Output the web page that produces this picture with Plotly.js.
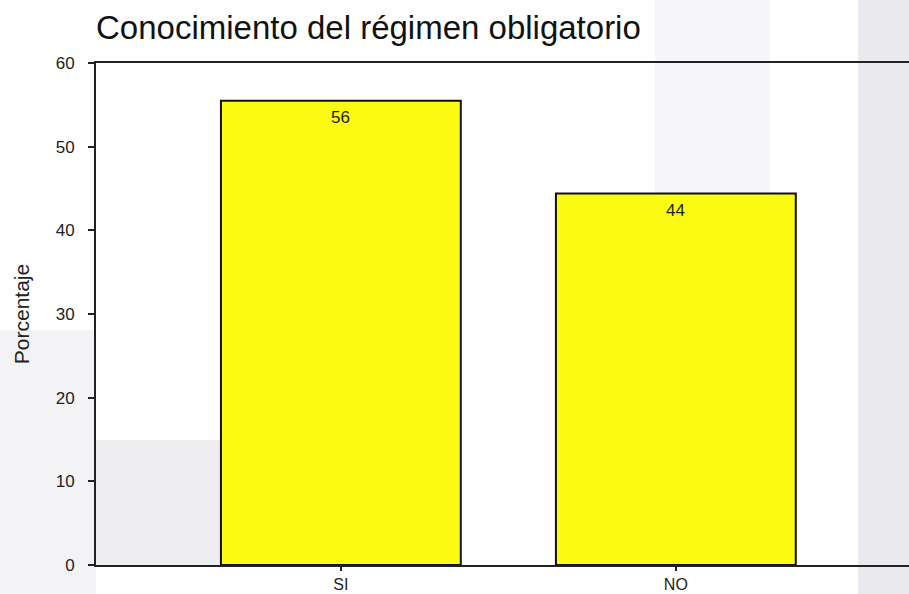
<!DOCTYPE html>
<html>
<head>
<meta charset="utf-8">
<script src="https://cdn.plot.ly/plotly-3.0.1.min.js"></script>
<style>html,body{margin:0;padding:0;background:#fff;}#chart{width:909px;height:594px;}</style>
</head>
<body>
<div id="chart"></div>
<script>
const categories = ["SI", "NO"];
const values = [55.5, 44.4];
const labels = ["56", "44"];
const yTicks = [0, 10, 20, 30, 40, 50, 60];

const FONT = "Liberation Sans, Arial, sans-serif";

const trace = {
  type: "bar",
  x: categories,
  y: values,
  marker: {color: "#FCFC12", line: {color: "#111", width: 2}},
  width: 0.716,
  hoverinfo: "none"
};

const annotations = categories.map((c, i) => ({
  x: c, y: values[i], xref: "x", yref: "y",
  text: labels[i], showarrow: false,
  yanchor: "top", yshift: -5,
  font: {family: FONT, size: 17, color: "#222"}
}));

const bg = [
  {x0: 858, x1: 909, y0: 0, y1: 594, c: "#eaeaee"},
  {x0: 655, x1: 770, y0: 0, y1: 565, c: "#f6f6f8"},
  {x0: 96, x1: 221, y0: 440, y1: 565, c: "#eeeef1"},
  {x0: 0, x1: 96, y0: 330, y1: 594, c: "#f3f3f5"}
];
const shapes = bg.map(r => ({
  type: "rect", xref: "paper", yref: "paper", layer: "below",
  x0: (r.x0 - 96) / 813, x1: (r.x1 - 96) / 813,
  y0: (565 - r.y1) / 502, y1: (565 - r.y0) / 502,
  fillcolor: r.c, line: {width: 0}
}));

const layout = {
  width: 909, height: 594,
  margin: {l: 96, r: 0, t: 63, b: 29},
  paper_bgcolor: "#ffffff",
  plot_bgcolor: "rgba(0,0,0,0)",
  showlegend: false,
  title: {text: "Conocimiento del régimen obligatorio", x: 96/909, xanchor: "left", y: 0.953, yanchor: "middle",
          font: {family: FONT, size: 33, color: "#111"}},
  xaxis: {
    type: "category", range: [-0.731, 1.696],
    showline: true, linecolor: "#222", linewidth: 2, mirror: true,
    ticks: "outside", ticklen: 4, tickcolor: "#222", tickwidth: 1.5,
    showgrid: false, zeroline: false,
    tickfont: {family: FONT, size: 16, color: "#222"},
    ticklabelstandoff: 0
  },
  yaxis: {
    range: [0, 60], tickvals: yTicks, ticktext: yTicks.map(String),
    showline: true, linecolor: "#222", linewidth: 2,
    ticks: "outside", ticklen: 6, tickcolor: "#222", tickwidth: 2,
    showgrid: false, zeroline: false,
    ticklabelstandoff: 10,
    tickfont: {family: FONT, size: 17, color: "#222"},
    title: {text: "Porcentaje", standoff: 20, font: {family: FONT, size: 21, color: "#222"}}
  },
  annotations: annotations,
  shapes: shapes,
  bargap: 0
};

Plotly.newPlot("chart", [trace], layout, {displayModeBar: false, staticPlot: true});
</script>
</body>
</html>
